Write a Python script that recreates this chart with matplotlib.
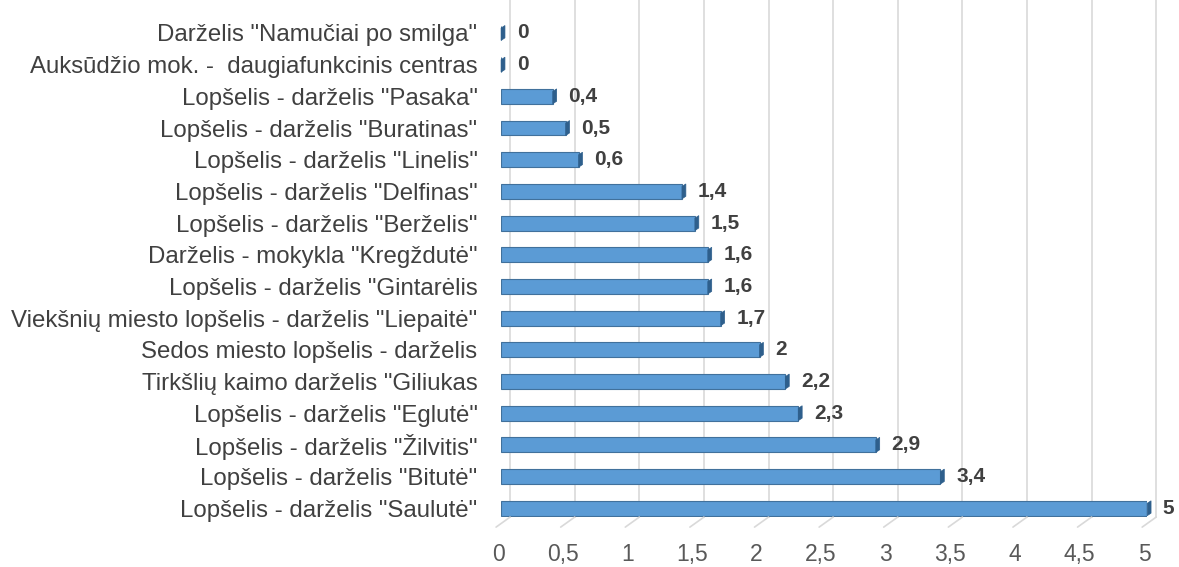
import matplotlib
matplotlib.use("Agg")
import matplotlib.pyplot as plt
from matplotlib.transforms import ScaledTranslation
from matplotlib.patches import Polygon

plt.rcParams["font.family"] = ["Liberation Sans", "DejaVu Sans"]

# ── duomenys (iš apačios į viršų) ─────────────────────────────
labels = [
    'Lopšelis - darželis "Saulutė"',
    'Lopšelis - darželis "Bitutė"',
    'Lopšelis - darželis "Žilvitis"',
    'Lopšelis - darželis "Eglutė"',
    'Tirkšlių kaimo darželis "Giliukas',
    'Sedos miesto lopšelis - darželis',
    'Viekšnių miesto lopšelis - darželis "Liepaitė"',
    'Lopšelis - darželis "Gintarėlis',
    'Darželis - mokykla "Kregždutė"',
    'Lopšelis - darželis "Berželis"',
    'Lopšelis - darželis "Delfinas"',
    'Lopšelis - darželis "Linelis"',
    'Lopšelis - darželis "Buratinas"',
    'Lopšelis - darželis "Pasaka"',
    'Auksūdžio mok. -  daugiafunkcinis centras',
    'Darželis "Namučiai po smilga"',
]
values = [5, 3.4, 2.9, 2.3, 2.2, 2, 1.7, 1.6, 1.6, 1.5, 1.4, 0.6, 0.5, 0.4, 0, 0]
value_text = ["5", "3,4", "2,9", "2,3", "2,2", "2", "1,7", "1,6", "1,6", "1,5",
              "1,4", "0,6", "0,5", "0,4", "0", "0"]
xticks = [0, 0.5, 1, 1.5, 2, 2.5, 3, 3.5, 4, 4.5, 5]
xtick_labels = ["0", "0,5", "1", "1,5", "2", "2,5", "3", "3,5", "4", "4,5", "5"]

fig = plt.figure(figsize=(11.79, 5.67), dpi=100)
ax = fig.add_axes([0.425, 0.088, 0.548, 0.912])

bar_h = 0.47
ypos = list(range(len(values)))
ax.barh(ypos, values, height=bar_h, color="#5B9BD5", edgecolor="#41719C",
        linewidth=0.8, zorder=3)

# 3D imitacija: tamsesnis dešinysis galas
cap = 0.03
for y, v in zip(ypos, values):
    pts = [(v, y - bar_h / 2), (v + cap, y - bar_h / 2 + 0.08),
           (v + cap, y + bar_h / 2), (v, y + bar_h / 2 - 0.08)]
    ax.add_patch(Polygon(pts, closed=True, facecolor="#2E5F8C",
                         edgecolor="#2E5F8C", linewidth=0.5, zorder=4,
                         clip_on=False))

for y, v, t in zip(ypos, values, value_text):
    ax.annotate(t, (v + cap, y), xytext=(8.5, 0), textcoords="offset points",
                ha="left", va="center", fontsize=15, fontweight="bold",
                color="#404040", zorder=5, annotation_clip=False)

ax.set_xlim(0, 5)
ax.set_ylim(-0.28, 16.04)
ax.set_yticks(ypos)
ax.set_yticklabels(labels, fontsize=17.3, color="#404040")
ax.set_xticks(xticks)
ax.set_xticklabels(xtick_labels, fontsize=16.5, color="#595959")
ax.tick_params(axis="both", length=0)
ax.tick_params(axis="x", pad=19)
ax.tick_params(axis="y", pad=17)

# skaičiai po ašimi šiek tiek pasislinkę į kairę (3D perspektyva)
shift = ScaledTranslation(-3 / 100, 0, fig.dpi_scale_trans)
for lab in ax.get_xticklabels():
    lab.set_transform(lab.get_transform() + shift)

for s in ax.spines.values():
    s.set_visible(False)

# galinės sienos tinklelis – pasislinkęs į dešinę, su grindų įstrižainėmis
back = ax.get_xaxis_transform() + ScaledTranslation(9 / 100, 0, fig.dpi_scale_trans)
for x in xticks:
    ax.plot([x, x], [0, 1], transform=back, color="#D9D9D9", linewidth=1.2,
            zorder=0, clip_on=False)
    ax.annotate("", xy=(x, 0), xycoords=back,
                xytext=(-14, -10), textcoords="offset pixels",
                arrowprops=dict(arrowstyle="-", color="#D9D9D9", lw=1.2,
                                shrinkA=0, shrinkB=0),
                annotation_clip=False)

fig.savefig("out.png", dpi=100)
